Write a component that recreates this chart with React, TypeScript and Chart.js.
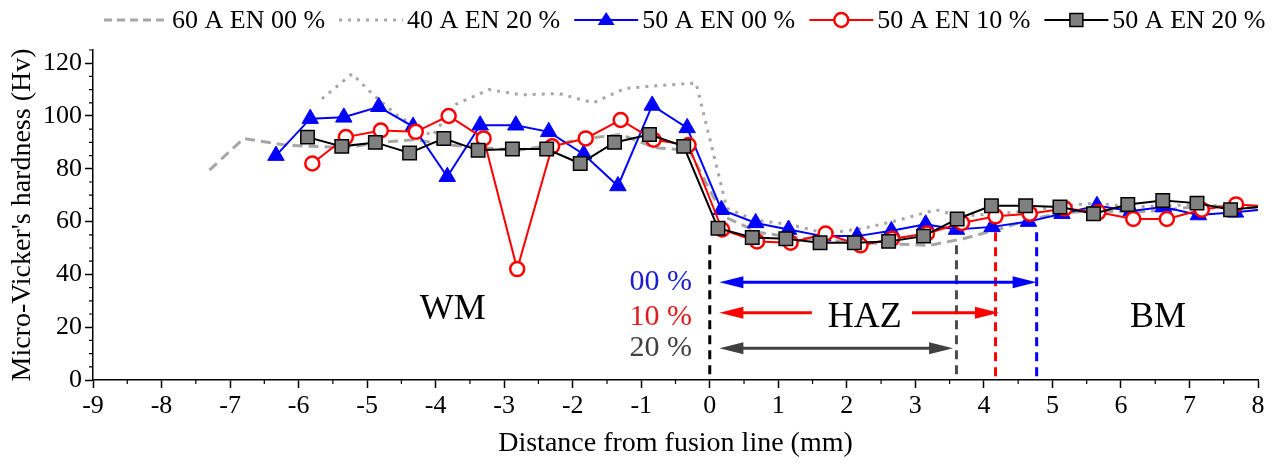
import React, { useEffect, useRef } from 'react';
import { Chart, registerables } from 'chart.js';

Chart.register(...registerables);

const SERIF = '"Liberation Serif", "Times New Roman", serif';

// 60 A EN 00 % (grey dashed, no markers)
const a60en00X = [-7.3, -6.8, -6.2, -5.8, -5.3, -4.8, -4.3, -3.8, -3.3, -2.8, -2.3, -1.8, -1.3, -0.8, -0.3, 0.2, 0.7, 1.2, 1.7, 2.2, 2.7, 3.2, 3.7, 4.2, 4.7, 5.2, 5.7, 6.2, 6.7, 7.2, 7.7, 8.1];
const a60en00Y = [79.5, 91.5, 89, 88.5, 88, 90, 91, 89, 88, 87, 89, 91.5, 93, 88, 87, 62, 56, 54, 53, 52, 51.5, 51, 53.5, 57, 61, 63.5, 64, 63.5, 64.5, 66, 65.5, 65];

// 40 A EN 20 % (grey dotted, no markers)
const a40en20X = [-5.66, -5.22, -4.93, -4.55, -4.05, -3.7, -3.22, -2.75, -2.2, -1.7, -1.23, -0.74, -0.2, 0.25, 0.67, 1.15, 1.7, 2.25, 2.75, 3.3, 3.65, 4.15, 4.65, 5.15, 5.65, 6.15, 6.65, 7.15, 7.65, 8.1];
const a40en20Y = [106.5, 116, 108.5, 100, 92.5, 104.5, 110, 108, 108.5, 105, 110.5, 111.5, 112.5, 65, 60.5, 59, 55.5, 57.5, 60.5, 64.5, 62, 63, 64, 66, 67, 65.5, 66, 66.5, 65.5, 65];

// 50 A EN 00 % (blue triangles)
const a50en00X = [-6.33, -5.83, -5.34, -4.83, -4.33, -3.83, -3.35, -2.83, -2.35, -1.84, -1.34, -0.84, -0.33, 0.17, 0.67, 1.15, 1.65, 2.15, 2.65, 3.15, 3.6, 4.12, 4.65, 5.14, 5.65, 6.15, 6.62, 7.13, 7.67, 8.2];
const a50en00Y = [85, 99, 99.5, 103.5, 96, 77, 96.5, 96.5, 94, 85.5, 73.5, 104, 95.5, 64.5, 59.5, 57, 54.5, 54.5, 56.5, 59, 57, 58, 60, 63, 66, 64, 65.5, 62.5, 63.5, 65];

// 50 A EN 10 % (red open circles)
const a50en10X = [-5.8, -5.31, -4.8, -4.29, -3.81, -3.3, -2.81, -2.3, -1.81, -1.3, -0.82, -0.31, 0.18, 0.69, 1.18, 1.69, 2.2, 2.66, 3.17, 3.68, 4.17, 4.67, 5.18, 5.67, 6.18, 6.67, 7.18, 7.68, 8.2];
const a50en10Y = [82, 92, 94.5, 94, 100, 91.5, 42, 88.5, 91.5, 98.5, 91, 89, 57, 52.5, 52, 55.5, 51, 53.5, 55.5, 59.5, 62, 63, 65, 63.5, 61, 61, 64.5, 66.5, 65.7];

// 50 A EN 20 % (grey squares)
const a50en20X = [-5.87, -5.37, -4.88, -4.38, -3.88, -3.38, -2.88, -2.38, -1.89, -1.39, -0.88, -0.38, 0.12, 0.62, 1.11, 1.61, 2.11, 2.61, 3.12, 3.61, 4.11, 4.61, 5.11, 5.6, 6.1, 6.61, 7.11, 7.6, 8.2];
const a50en20Y = [92, 88.5, 90, 86, 91.5, 87, 87.5, 87.5, 82, 90, 93, 88.5, 57.5, 54, 53.5, 52, 52, 52.5, 54.5, 61, 66, 66, 65.5, 63, 66.5, 68, 67, 64.5, 66];

// HAZ limits (mm) and where their dashed markers start (Hv)
const hazLimits = [0, 3.6, 4.17, 4.77];
const hazLimitTops = [51, 51, 56, 56];
const hazLimitColors = ['#000000', '#4d4d4d', '#ff0000', '#0000ff'];

// HAZ width arrows: 00 %, 10 %, 20 %
const hazArrowStart = 0.14;
const hazArrowEnds = [4.77, 4.22, 3.55];
const hazArrowY = [37, 25.5, 12];
const hazArrowColors = ['#0000ff', '#ff0000', '#404040'];
const hazRedGap = [1.49, 2.95];
const hazLabels = ['00 %', '10 %', '20 %'];
const hazLabelY = [37, 24, 12];
const hazLabelColors = ['#1c1cc8', '#e01a1a', '#404040'];

const zoneLabels = ['WM', 'HAZ', 'BM'];
const zoneX = [-3.75, 2.26, 6.54];
const zoneY = [26.5, 23.5, 23.5];

const legendItems = [
  { label: '60 A EN 00 %', color: '#a6a6a6', dash: [8, 5], width: 3, marker: '' },
  { label: '40 A EN 20 %', color: '#a6a6a6', dash: [3, 6], width: 3, marker: '' },
  { label: '50 A EN 00 %', color: '#0000ff', dash: [], width: 2, marker: 'triangle' },
  { label: '50 A EN 10 %', color: '#ff0000', dash: [], width: 2, marker: 'circle' },
  { label: '50 A EN 20 %', color: '#000000', dash: [], width: 2, marker: 'rect' },
];

const toPoints = (xs: number[], ys: number[]) => xs.map((x, i) => ({ x, y: ys[i] }));

function drawMarker(ctx: CanvasRenderingContext2D, kind: string, cx: number, cy: number) {
  ctx.save();
  ctx.setLineDash([]);
  if (kind === 'triangle') {
    ctx.fillStyle = '#0000ff';
    ctx.beginPath();
    ctx.moveTo(cx, cy - 8);
    ctx.lineTo(cx + 8.5, cy + 5);
    ctx.lineTo(cx - 8.5, cy + 5);
    ctx.closePath();
    ctx.fill();
  } else if (kind === 'circle') {
    ctx.fillStyle = '#ffffff';
    ctx.strokeStyle = '#ff0000';
    ctx.lineWidth = 2.5;
    ctx.beginPath();
    ctx.arc(cx, cy, 7, 0, Math.PI * 2);
    ctx.fill();
    ctx.stroke();
  } else if (kind === 'rect') {
    ctx.fillStyle = '#808080';
    ctx.strokeStyle = '#000000';
    ctx.lineWidth = 1.5;
    ctx.fillRect(cx - 6.5, cy - 6.5, 13, 13);
    ctx.strokeRect(cx - 6.5, cy - 6.5, 13, 13);
  }
  ctx.restore();
}

function drawArrow(ctx: CanvasRenderingContext2D, x1: number, x2: number, y: number, color: string, headLeft: boolean, headRight: boolean) {
  const head = 24;
  const half = 6;
  ctx.strokeStyle = color;
  ctx.fillStyle = color;
  ctx.lineWidth = 3;
  ctx.beginPath();
  ctx.moveTo(headLeft ? x1 + head - 2 : x1, y);
  ctx.lineTo(headRight ? x2 - head + 2 : x2, y);
  ctx.stroke();
  if (headLeft) {
    ctx.beginPath();
    ctx.moveTo(x1, y);
    ctx.lineTo(x1 + head, y - half);
    ctx.lineTo(x1 + head, y + half);
    ctx.closePath();
    ctx.fill();
  }
  if (headRight) {
    ctx.beginPath();
    ctx.moveTo(x2, y);
    ctx.lineTo(x2 - head, y - half);
    ctx.lineTo(x2 - head, y + half);
    ctx.closePath();
    ctx.fill();
  }
}

const hazPlugin = {
  id: 'hazAnnotations',
  beforeDatasetsDraw(chart: any) {
    const { ctx, scales } = chart;
    const x = scales.x;
    const y = scales.y;
    ctx.save();

    // dashed HAZ limits
    ctx.lineWidth = 3;
    ctx.setLineDash([9, 6]);
    hazLimits.forEach((v, i) => {
      const px = x.getPixelForValue(v);
      ctx.strokeStyle = hazLimitColors[i];
      ctx.beginPath();
      ctx.moveTo(px, y.getPixelForValue(hazLimitTops[i]));
      ctx.lineTo(px, y.getPixelForValue(0));
      ctx.stroke();
    });
    ctx.setLineDash([]);

    // arrows
    const xs = x.getPixelForValue(hazArrowStart);
    hazArrowEnds.forEach((end, i) => {
      const py = y.getPixelForValue(hazArrowY[i]);
      const xe = x.getPixelForValue(end);
      if (i === 1) {
        drawArrow(ctx, xs, x.getPixelForValue(hazRedGap[0]), py, hazArrowColors[i], true, false);
        drawArrow(ctx, x.getPixelForValue(hazRedGap[1]), xe, py, hazArrowColors[i], false, true);
      } else {
        drawArrow(ctx, xs, xe, py, hazArrowColors[i], true, true);
      }
    });

    // percentage labels
    ctx.font = `30px ${SERIF}`;
    ctx.textAlign = 'right';
    ctx.textBaseline = 'middle';
    hazLabels.forEach((t, i) => {
      ctx.fillStyle = hazLabelColors[i];
      ctx.fillText(t, x.getPixelForValue(-0.26), y.getPixelForValue(hazLabelY[i]));
    });

    // zone labels
    ctx.font = `36px ${SERIF}`;
    ctx.textAlign = 'center';
    ctx.fillStyle = '#000000';
    zoneLabels.forEach((t, i) => {
      ctx.fillText(t, x.getPixelForValue(zoneX[i]), y.getPixelForValue(zoneY[i]));
    });
    ctx.restore();
  },
  afterDraw(chart: any) {
    const { ctx, scales, chartArea } = chart;
    const x = scales.x;
    const y = scales.y;
    ctx.save();

    // minor ticks
    ctx.strokeStyle = '#000000';
    ctx.lineWidth = 1.2;
    ctx.beginPath();
    for (let v = -8.5; v < 8; v += 1) {
      const px = x.getPixelForValue(v);
      ctx.moveTo(px, chartArea.bottom);
      ctx.lineTo(px, chartArea.bottom + 4);
    }
    for (let v = 5; v <= 125; v += 5) {
      if (v % 20 === 0) continue;
      const py = y.getPixelForValue(v);
      ctx.moveTo(chartArea.left, py);
      ctx.lineTo(chartArea.left - 4, py);
    }
    ctx.stroke();

    // legend
    ctx.font = `26px ${SERIF}`;
    ctx.textAlign = 'left';
    ctx.textBaseline = 'middle';
    let lx = 104;
    const ly = 20;
    legendItems.forEach((item) => {
      ctx.strokeStyle = item.color;
      ctx.lineWidth = item.width;
      ctx.setLineDash(item.dash);
      ctx.beginPath();
      ctx.moveTo(lx, ly);
      ctx.lineTo(lx + 64, ly);
      ctx.stroke();
      ctx.setLineDash([]);
      if (item.marker) drawMarker(ctx, item.marker, lx + 32, ly);
      ctx.fillStyle = '#000000';
      ctx.fillText(item.label, lx + 68, ly + 1);
      lx += 68 + ctx.measureText(item.label).width + 14;
    });
    ctx.restore();
  },
};

const axisFont = { family: SERIF, size: 26 };

export default function App() {
  const canvasRef = useRef<HTMLCanvasElement>(null);

  useEffect(() => {
    if (!canvasRef.current) return;

    const chart = new Chart(canvasRef.current, {
      type: 'line',
      data: {
        datasets: [
          {
            label: '50 A EN 20 %',
            data: toPoints(a50en20X, a50en20Y),
            borderColor: '#000000',
            borderWidth: 2,
            pointStyle: 'rect',
            pointRadius: 9.5,
            pointBackgroundColor: '#808080',
            pointBorderColor: '#000000',
            pointBorderWidth: 1.5,
            tension: 0,
            clip: 0,
            order: 1,
          },
          {
            label: '50 A EN 10 %',
            data: toPoints(a50en10X, a50en10Y),
            borderColor: '#ff0000',
            borderWidth: 2,
            pointStyle: 'circle',
            pointRadius: 7,
            pointBackgroundColor: '#ffffff',
            pointBorderColor: '#ff0000',
            pointBorderWidth: 2.5,
            tension: 0,
            clip: 0,
            order: 2,
          },
          {
            label: '50 A EN 00 %',
            data: toPoints(a50en00X, a50en00Y),
            borderColor: '#0000ff',
            borderWidth: 2,
            pointStyle: 'triangle',
            pointRadius: 9.5,
            pointBackgroundColor: '#0000ff',
            pointBorderColor: '#0000ff',
            pointBorderWidth: 1,
            tension: 0,
            clip: 0,
            order: 3,
          },
          {
            label: '40 A EN 20 %',
            data: toPoints(a40en20X, a40en20Y),
            borderColor: '#a6a6a6',
            borderWidth: 3,
            borderDash: [3, 6],
            pointRadius: 0,
            tension: 0,
            clip: 0,
            order: 4,
          },
          {
            label: '60 A EN 00 %',
            data: toPoints(a60en00X, a60en00Y),
            borderColor: '#a6a6a6',
            borderWidth: 3,
            borderDash: [10, 6],
            pointRadius: 0,
            tension: 0,
            clip: 0,
            order: 5,
          },
        ],
      },
      options: {
        responsive: false,
        animation: false,
        layout: { padding: { top: 50, right: 16, left: 0, bottom: 0 } },
        plugins: {
          legend: { display: false },
          tooltip: { enabled: false },
        },
        scales: {
          x: {
            type: 'linear',
            min: -9,
            max: 8,
            ticks: { stepSize: 1, autoSkip: false, maxRotation: 0, font: axisFont, color: '#000000', padding: 3 },
            grid: { drawOnChartArea: false, drawTicks: true, tickLength: 8, color: '#000000', tickWidth: 1.5 },
            border: { display: true, color: '#000000', width: 1.5 },
            title: {
              display: true,
              text: 'Distance from fusion line (mm)',
              font: { family: SERIF, size: 28 },
              color: '#000000',
              padding: { top: 0, bottom: 10 },
            },
            afterFit: (scale: any) => {
              scale.height = 90;
            },
          },
          y: {
            min: 0,
            max: 125,
            ticks: { stepSize: 20, includeBounds: false, font: axisFont, color: '#000000', padding: 3 },
            grid: { drawOnChartArea: false, drawTicks: true, tickLength: 8, color: '#000000', tickWidth: 1.5 },
            border: { display: true, color: '#000000', width: 1.5 },
            title: {
              display: true,
              text: "Micro-Vicker's hardness (Hv)",
              font: { family: SERIF, size: 28 },
              color: '#000000',
              padding: { top: 6, bottom: 0 },
            },
            afterFit: (scale: any) => {
              scale.width = 93;
            },
          },
        },
      },
      plugins: [hazPlugin],
    } as any);

    return () => {
      chart.destroy();
    };
  }, []);

  return (
    <div style={{ position: 'fixed', left: 0, top: 0, width: 1274, height: 470, background: '#ffffff' }}>
      <canvas ref={canvasRef} width={1274} height={470} style={{ display: 'block' }} />
    </div>
  );
}
